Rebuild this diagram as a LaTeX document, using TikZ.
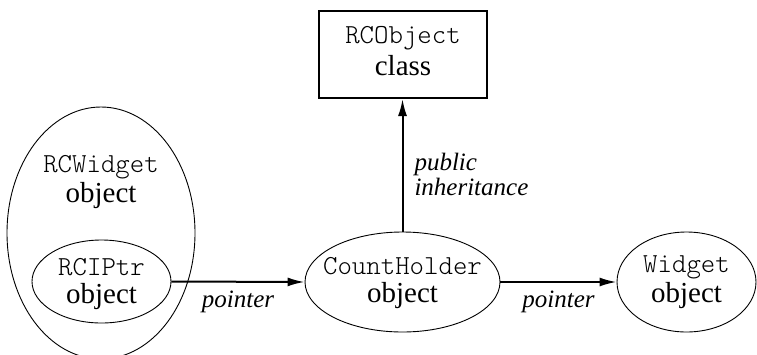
\documentclass[tikz,border=0pt]{standalone}
\usepackage{fontspec}
\setmainfont{Liberation Serif}
\setmonofont{Latin Modern Mono Light}
\usetikzlibrary{shapes.geometric,arrows.meta}
\newcommand{\mytt}[1]{{\fontsize{27.5}{26}\selectfont\ttfamily #1}}
\tikzset{
  obj/.style={ellipse,draw,line width=0.9pt,inner sep=0pt},
  cls/.style={rectangle,draw,line width=2pt,inner sep=0pt},
  lbl/.style={align=center,inner sep=0pt,anchor=base,font=\fontsize{29}{26}\selectfont},
  conn/.style={line width=2pt,-{Latex[length=17pt,width=9pt]}},
  elab/.style={font=\fontsize{25}{25}\selectfont\itshape,inner sep=0pt,align=left}
}
\begin{document}
\begin{tikzpicture}[x=1pt,y=-1pt]
\useasboundingbox (0,0) rectangle (757,354);
% shapes
\node[cls,minimum width=168pt,minimum height=87pt] (rco) at (403,54.5) {};
\node[obj,minimum width=188pt,minimum height=252pt] (rcw) at (101,233) {};
\node[obj,minimum width=139pt,minimum height=83pt] (rcp) at (101.5,281.5) {};
\node[obj,minimum width=195pt,minimum height=100pt] (ch) at (402.5,282) {};
\node[obj,minimum width=139pt,minimum height=100pt] (wd) at (686.5,282) {};
% texts (baseline of last line)
\node[lbl] (t1) at (403,75) {\mytt{RCObject}\\[4pt]class};
\node[lbl] (t2) at (101,202) {\mytt{RCWidget}\\[2pt]object};
\node[lbl] (t3) at (101.5,303) {\mytt{RCIPtr}\\[2pt]object};
\node[lbl] (t4) at (402.5,302) {\mytt{CountHolder}\\[2pt]object};
\node[lbl] (t5) at (686.5,302) {\mytt{Widget}\\[2pt]object};
% connectors
\draw[conn] (rcp.east) -- (ch.west) node[elab,midway,below=8pt] (l1) {pointer};
\draw[conn] (ch.east) -- (wd.west) node[elab,midway,below=8pt] (l2) {pointer};
\draw[conn] (ch.north) -- (ch.north |- rco.south) node[elab,pos=0.43,right=11pt] (l3) {public\\inheritance};
\end{tikzpicture}
\end{document}
